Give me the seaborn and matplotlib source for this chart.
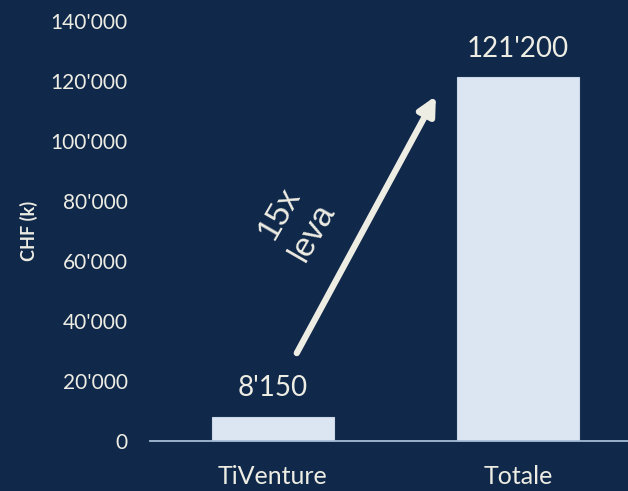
import matplotlib
matplotlib.use("Agg")
import matplotlib.pyplot as plt
import seaborn as sns
import pandas as pd

categories = ["TiVenture", "Totale"]
values = [8150, 121200]
value_labels = ["8'150", "121'200"]
yticks = [0, 20000, 40000, 60000, 80000, 100000, 120000, 140000]
ytick_labels = ["0", "20'000", "40'000", "60'000", "80'000", "100'000", "120'000", "140'000"]
arrow_text = "15x\nleva"

BG = "#10284A"
BAR = "#DCE6F2"
TXT = "#EEEDE4"

sns.set_theme(style="white")
plt.rcParams['font.family'] = ['Lato', 'DejaVu Sans']

fig = plt.figure(figsize=(6.28, 4.91), dpi=100, facecolor=BG)
ax = fig.add_axes([150/628, 50/491, 478/628, 420/491])
ax.set_facecolor(BG)

df = pd.DataFrame({"cat": categories, "val": values})
sns.barplot(data=df, x="cat", y="val", color=BAR, width=0.5, saturation=1,
            edgecolor="#C9D6E8", linewidth=0.8, ax=ax)

ax.set_xlim(-0.502, 1.449)
ax.set_ylim(0, 140000)
ax.set_yticks(yticks)
ax.set_yticklabels(ytick_labels)
ax.tick_params(axis='y', length=0, pad=16, labelsize=15, labelcolor=TXT)
ax.tick_params(axis='x', length=0, pad=17, labelsize=18, labelcolor=TXT)
ax.set_xlabel("")
ax.set_ylabel("CHF (k)", color=TXT, fontsize=13, fontweight='bold', labelpad=9)

for s in ["top", "right", "left"]:
    ax.spines[s].set_visible(False)
ax.spines["bottom"].set_color("#A6BDD7")
ax.spines["bottom"].set_linewidth(1.3)

for i, (v, lab) in enumerate(zip(values, value_labels)):
    ax.annotate(lab, (i, v), xytext=(0, 15), textcoords="offset points",
                ha="center", va="baseline", color=TXT, fontsize=20)

ax.annotate("", xy=(0.665, 115000), xytext=(0.097, 29300),
            arrowprops=dict(arrowstyle="-|>,head_length=0.9,head_width=0.45",
                            color="#EEEDE4", lw=4.5, shrinkA=0, shrinkB=0))
ax.text(0.096, 72800, arrow_text, rotation=60, ha="center", va="center",
        multialignment="center", color=TXT, fontsize=24, linespacing=1.3,
        rotation_mode="anchor", family=["Liberation Sans", "DejaVu Sans"])

fig.savefig("out.png", dpi=100, facecolor=BG)
